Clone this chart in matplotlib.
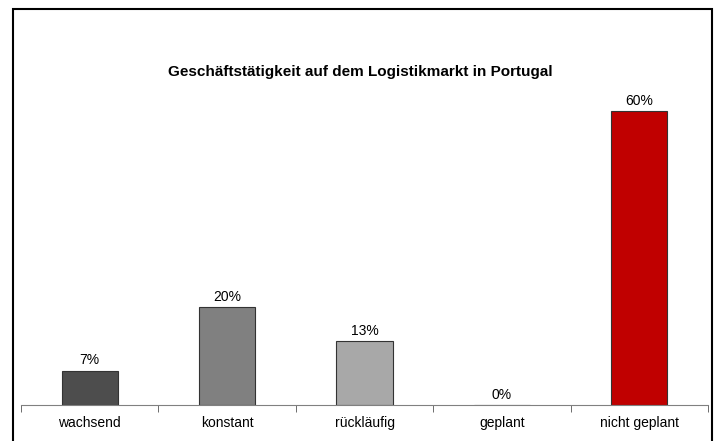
import matplotlib.pyplot as plt
from matplotlib.patches import Rectangle

plt.rcParams['font.family'] = ['Liberation Sans', 'DejaVu Sans']

categories = ["wachsend", "konstant", "rückläufig", "geplant", "nicht geplant"]
values = [7, 20, 13, 0, 60]
colors = ["#4d4d4d", "#808080", "#a8a8a8", "#a8a8a8", "#c00000"]
title = "Geschäftstätigkeit auf dem Logistikmarkt in Portugal"

fig = plt.figure(figsize=(7.2, 4.41), dpi=100)

# outer frame around the chart
fig.patches.append(Rectangle((13 / 720, -0.05), 699 / 720, 1.05 - 9 / 441,
                             transform=fig.transFigure, fill=False,
                             edgecolor="black", linewidth=1.5))

ax = fig.add_axes([21 / 720, 1 - 405 / 441, 687 / 720, 343 / 441])
x = range(len(categories))
bars = ax.bar(x, values, width=0.41, color=colors, edgecolor="#333333", linewidth=0.8)

for xi, v in zip(x, values):
    ax.text(xi, v + 0.7, f"{v}%", ha="center", va="bottom", fontsize=10)

ax.set_xlim(-0.5, len(categories) - 0.5)
ax.set_ylim(0, 70)
ax.set_xticks(list(x))
ax.set_xticklabels(categories, fontsize=10)
ax.tick_params(axis="x", which="major", length=0, pad=8)
ax.set_xticks([i - 0.5 for i in range(len(categories) + 1)], minor=True)
ax.tick_params(axis="x", which="minor", length=5, color="#555555")
ax.set_yticks([])
for s in ["left", "right", "top"]:
    ax.spines[s].set_visible(False)
ax.spines["bottom"].set_color("#808080")

fig.text(0.5, 1 - 72 / 441, title, ha="center", va="center",
         fontsize=11, fontweight="bold")

fig.savefig("out.png", dpi=100)
